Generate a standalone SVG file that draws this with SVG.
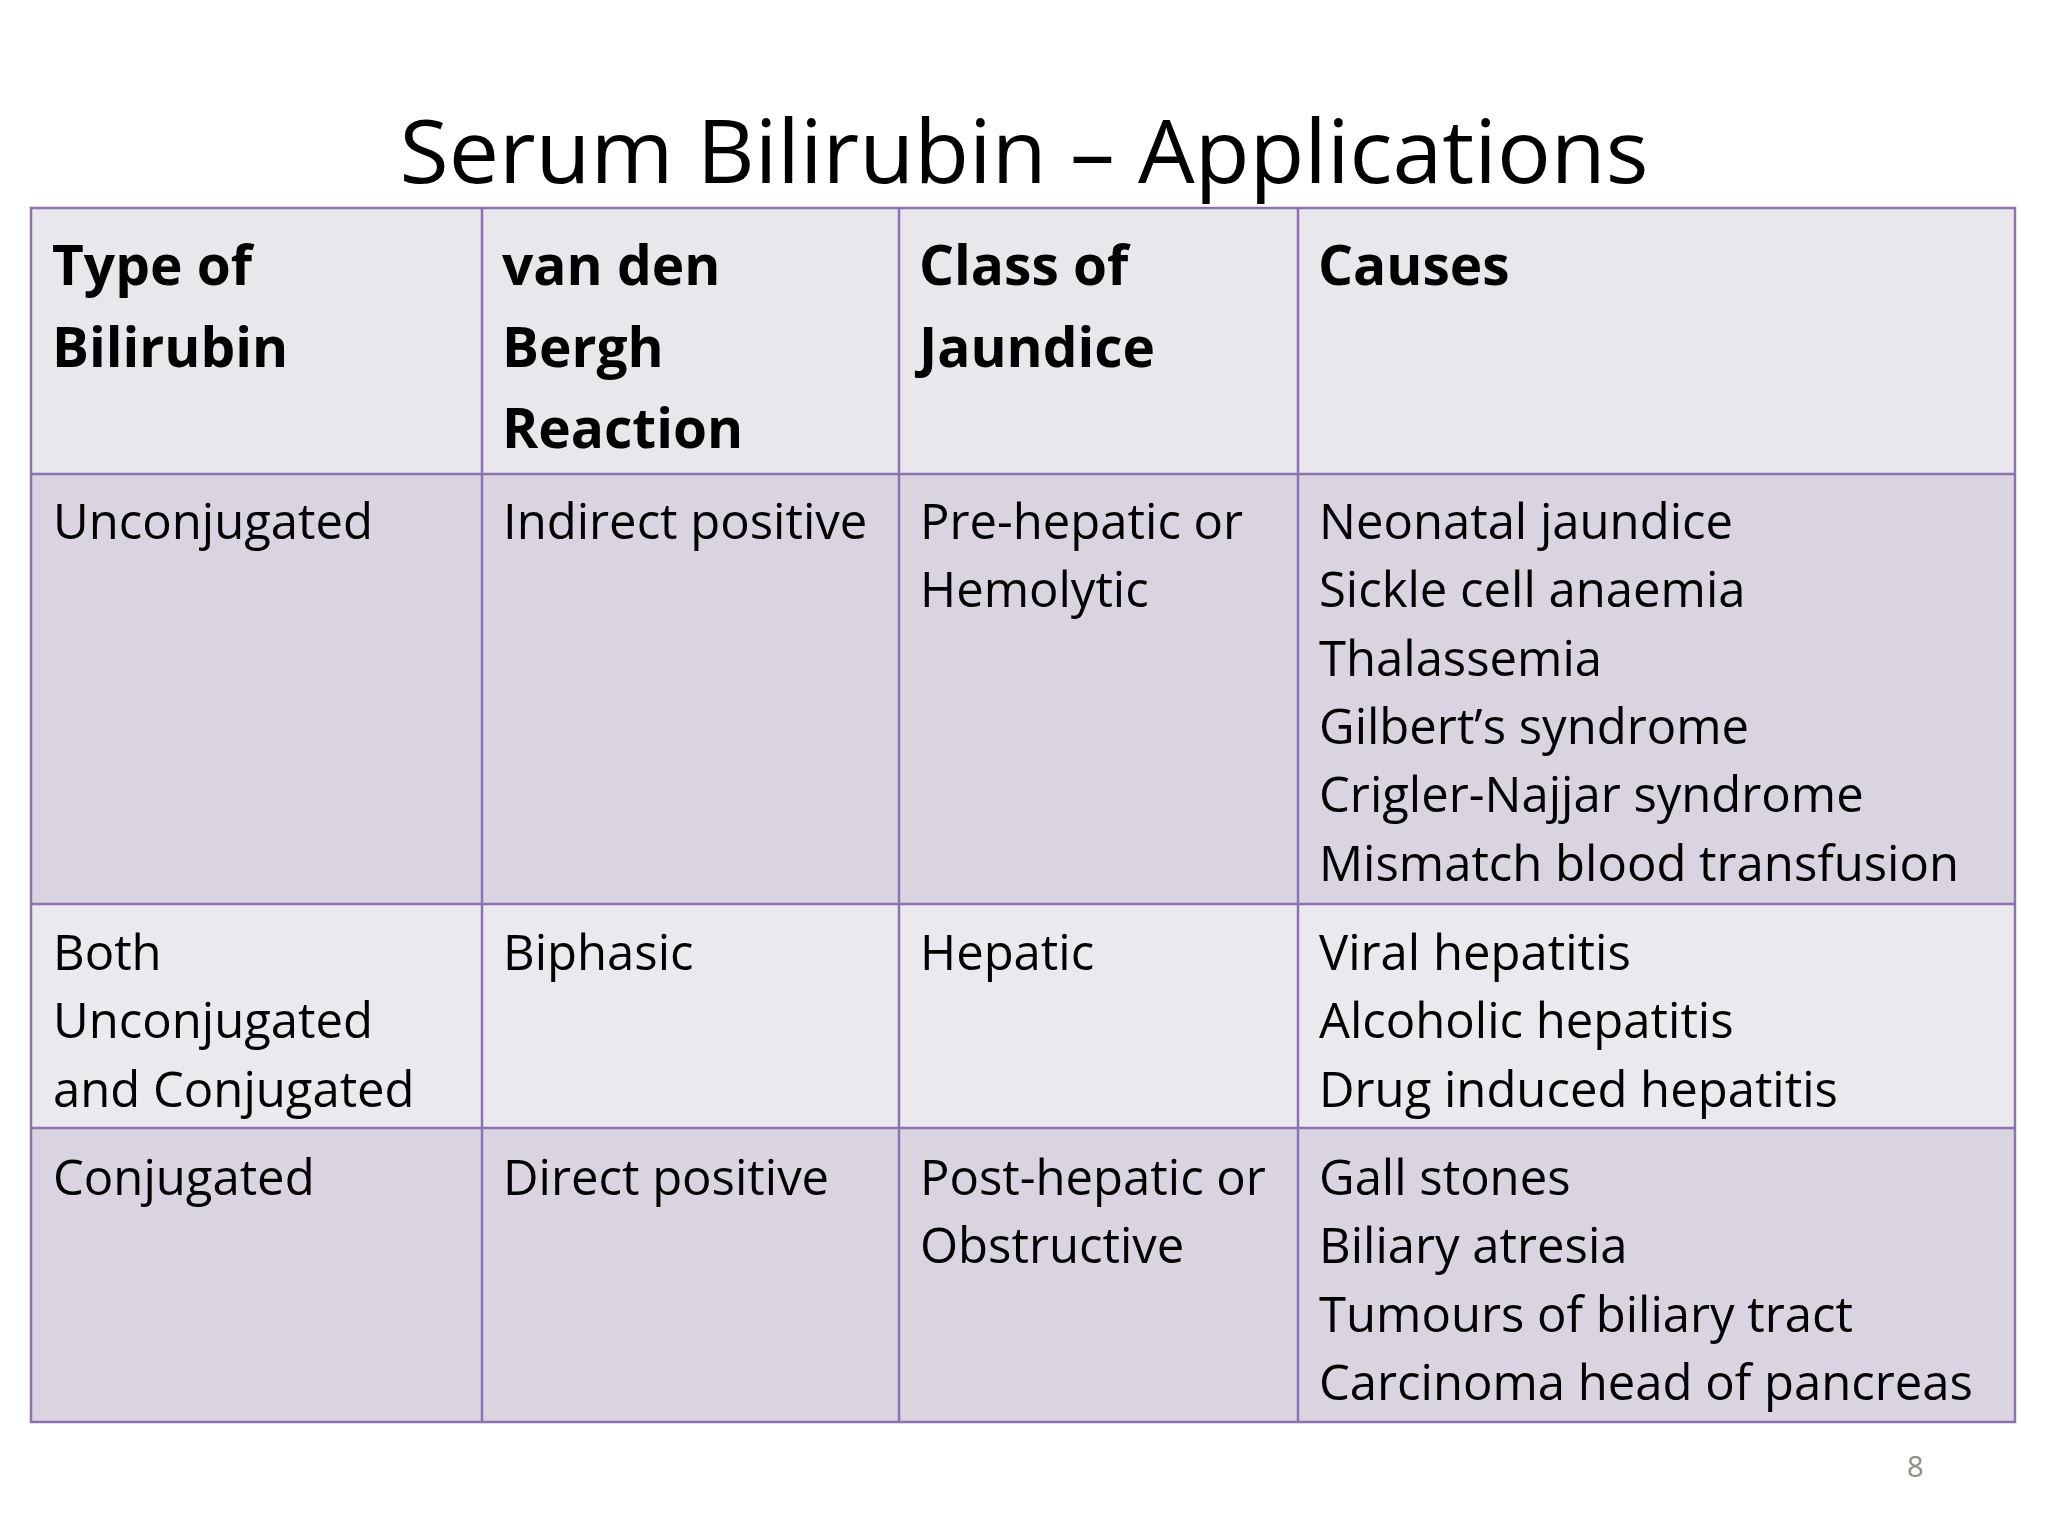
<svg xmlns="http://www.w3.org/2000/svg" width="2048" height="1536" viewBox="0 0 2048 1536">
<style>
.t{font-family:"Open Sans","Liberation Sans",sans-serif;font-size:49px;fill:#000}
.h{font-family:"Open Sans","Liberation Sans",sans-serif;font-size:55px;font-weight:bold;fill:#000}
.ln{stroke:#8b72b0;stroke-width:2.5;fill:none}
</style>
<rect width="2048" height="1536" fill="#fff"/>
<text x="1024" y="183" text-anchor="middle" font-family="Open Sans, Liberation Sans, sans-serif" font-size="88" textLength="1249" lengthAdjust="spacingAndGlyphs">Serum Bilirubin – Applications</text>
<g id="table">
<rect x="31" y="208" width="1984" height="266" fill="#e9e7ec"/>
<rect x="31" y="474" width="1984" height="430" fill="#d9d4e0"/>
<rect x="31" y="904" width="1984" height="224" fill="#ebe8ee"/>
<rect x="31" y="1128" width="1984" height="294" fill="#d9d4e0"/>
<rect class="ln" x="31" y="208" width="1984" height="1214"/>
<path class="ln" d="M31 474H2015M31 904H2015M31 1128H2015M482 208V1422M899 208V1422M1298 208V1422"/>
</g>
<g id="header">
<text class="h" x="52" y="285">Type of</text><text class="h" x="52" y="367">Bilirubin</text>
<text class="h" x="502" y="285">van den</text><text class="h" x="502" y="367">Bergh</text><text class="h" x="502" y="448">Reaction</text>
<text class="h" x="919" y="285">Class of</text><text class="h" x="919" y="367">Jaundice</text>
<text class="h" x="1318" y="285">Causes</text>
</g>
<g id="row1">
<text class="t" x="53" y="539">Unconjugated</text>
<text class="t" x="503" y="539">Indirect positive</text>
<text class="t" x="920" y="539">Pre-hepatic or</text><text class="t" x="920" y="607">Hemolytic</text>
<text class="t" x="1319" y="539">Neonatal jaundice</text>
<text class="t" x="1319" y="607">Sickle cell anaemia</text>
<text class="t" x="1319" y="676">Thalassemia</text>
<text class="t" x="1319" y="744">Gilbert’s syndrome</text>
<text class="t" x="1319" y="812">Crigler-Najjar syndrome</text>
<text class="t" x="1319" y="881">Mismatch blood transfusion</text>
</g>
<g id="row2">
<text class="t" x="53" y="970">Both</text><text class="t" x="53" y="1038">Unconjugated</text><text class="t" x="53" y="1107">and Conjugated</text>
<text class="t" x="503" y="970">Biphasic</text>
<text class="t" x="920" y="970">Hepatic</text>
<text class="t" x="1319" y="970">Viral hepatitis</text>
<text class="t" x="1319" y="1038">Alcoholic hepatitis</text>
<text class="t" x="1319" y="1107">Drug induced hepatitis</text>
</g>
<g id="row3">
<text class="t" x="53" y="1195">Conjugated</text>
<text class="t" x="503" y="1195">Direct positive</text>
<text class="t" x="920" y="1195">Post-hepatic or</text><text class="t" x="920" y="1263">Obstructive</text>
<text class="t" x="1319" y="1195">Gall stones</text>
<text class="t" x="1319" y="1263">Biliary atresia</text>
<text class="t" x="1319" y="1332">Tumours of biliary tract</text>
<text class="t" x="1319" y="1400">Carcinoma head of pancreas</text>
</g>
<text x="1907" y="1477" font-family="Open Sans, Liberation Sans, sans-serif" font-size="29" fill="#8c8c8c">8</text>
</svg>
